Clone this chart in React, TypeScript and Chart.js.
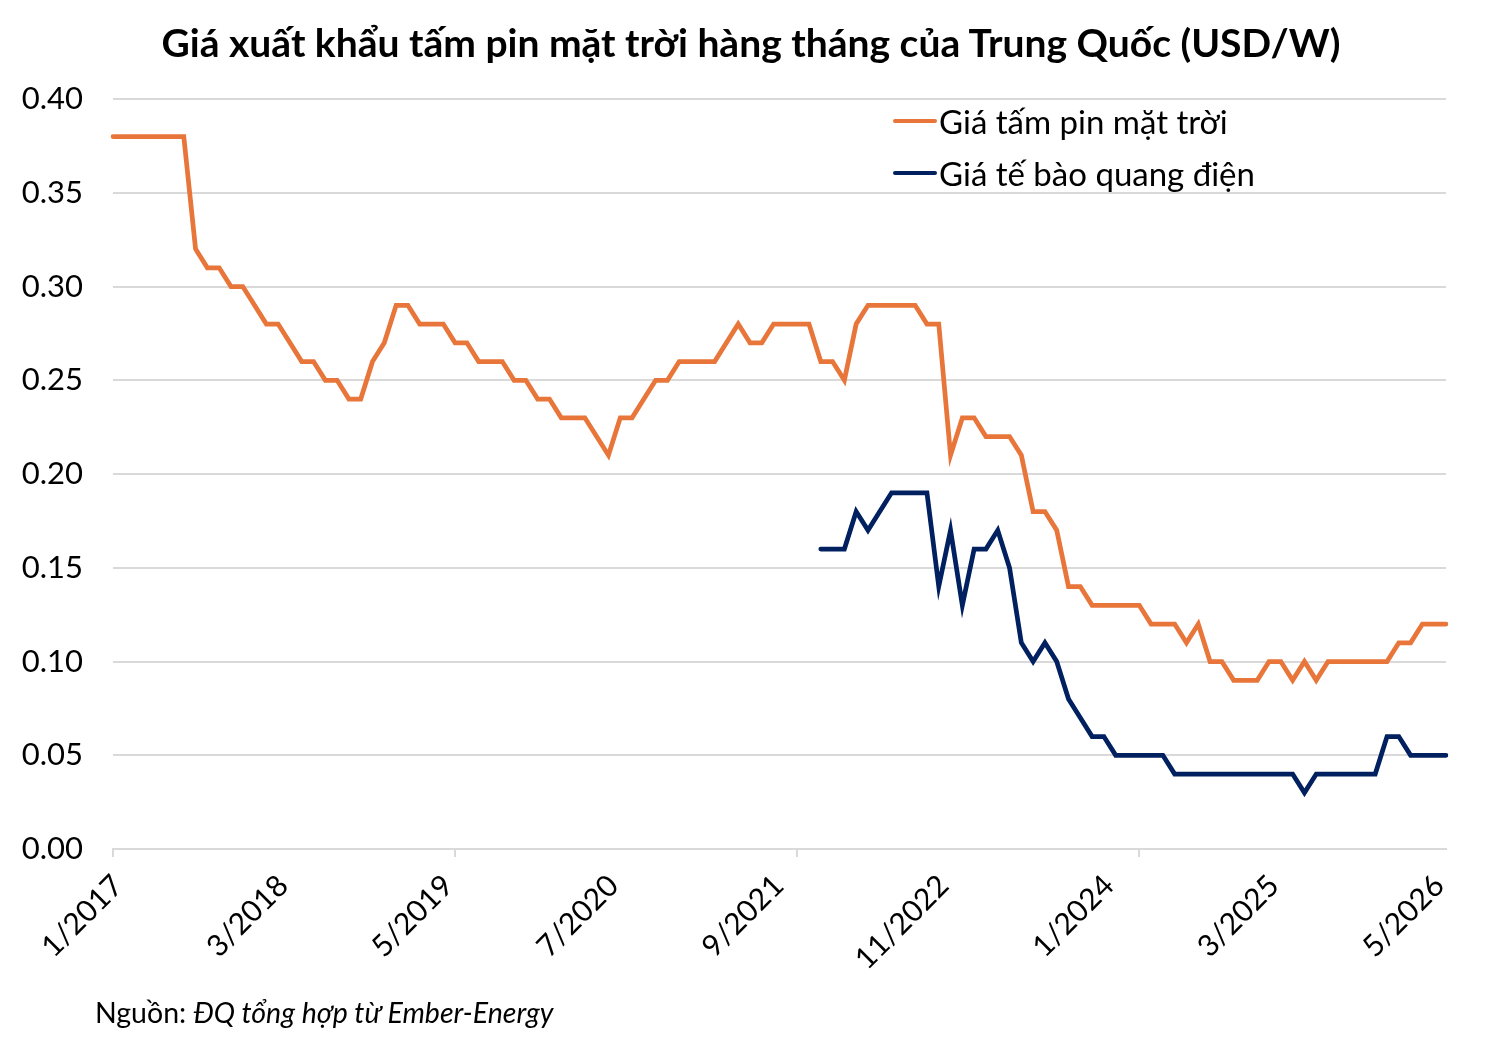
import React, { useEffect, useRef } from 'react';
import { Chart, registerables } from 'chart.js';

Chart.register(...registerables);

// monthly categories, 1/2017 .. 6/2026
const startYear = 2017;
const monthCount = 114;
const months: string[] = [];
for (let i = 0; i < monthCount; i++) {
  months.push(`${(i % 12) + 1}/${startYear + Math.floor(i / 12)}`);
}

// USD/W, one row per year
const panelPrice = [
  0.38, 0.38, 0.38, 0.38, 0.38, 0.38, 0.38, 0.32, 0.31, 0.31, 0.30, 0.30,
  0.29, 0.28, 0.28, 0.27, 0.26, 0.26, 0.25, 0.25, 0.24, 0.24, 0.26, 0.27,
  0.29, 0.29, 0.28, 0.28, 0.28, 0.27, 0.27, 0.26, 0.26, 0.26, 0.25, 0.25,
  0.24, 0.24, 0.23, 0.23, 0.23, 0.22, 0.21, 0.23, 0.23, 0.24, 0.25, 0.25,
  0.26, 0.26, 0.26, 0.26, 0.27, 0.28, 0.27, 0.27, 0.28, 0.28, 0.28, 0.28,
  0.26, 0.26, 0.25, 0.28, 0.29, 0.29, 0.29, 0.29, 0.29, 0.28, 0.28, 0.21,
  0.23, 0.23, 0.22, 0.22, 0.22, 0.21, 0.18, 0.18, 0.17, 0.14, 0.14, 0.13,
  0.13, 0.13, 0.13, 0.13, 0.12, 0.12, 0.12, 0.11, 0.12, 0.10, 0.10, 0.09,
  0.09, 0.09, 0.10, 0.10, 0.09, 0.10, 0.09, 0.10, 0.10, 0.10, 0.10, 0.10,
  0.10, 0.11, 0.11, 0.12, 0.12, 0.12,
];

const cellPrice: (number | null)[] = [
  null, null, null, null, null, null, null, null, null, null, null, null,
  null, null, null, null, null, null, null, null, null, null, null, null,
  null, null, null, null, null, null, null, null, null, null, null, null,
  null, null, null, null, null, null, null, null, null, null, null, null,
  null, null, null, null, null, null, null, null, null, null, null, null,
  0.16, 0.16, 0.16, 0.18, 0.17, 0.18, 0.19, 0.19, 0.19, 0.19, 0.14, 0.17,
  0.13, 0.16, 0.16, 0.17, 0.15, 0.11, 0.10, 0.11, 0.10, 0.08, 0.07, 0.06,
  0.06, 0.05, 0.05, 0.05, 0.05, 0.05, 0.04, 0.04, 0.04, 0.04, 0.04, 0.04,
  0.04, 0.04, 0.04, 0.04, 0.04, 0.03, 0.04, 0.04, 0.04, 0.04, 0.04, 0.04,
  0.06, 0.06, 0.05, 0.05, 0.05, 0.05,
];

const series = [
  { label: 'Giá tấm pin mặt trời', data: panelPrice, color: '#E8763A' },
  { label: 'Giá tế bào quang điện', data: cellPrice, color: '#002060' },
];

const yTicks = [0, 0.05, 0.1, 0.15, 0.2, 0.25, 0.3, 0.35, 0.4];

const FONT = 'Lato, "Noto Sans", sans-serif';
const GRID = '#D9D9D9';

function PriceChart() {
  const canvasRef = useRef<HTMLCanvasElement | null>(null);

  useEffect(() => {
    if (!canvasRef.current) return;
    const chart = new Chart(canvasRef.current, {
      type: 'line',
      data: {
        labels: months,
        datasets: series.map(s => ({
          label: s.label,
          data: s.data,
          borderColor: s.color,
          backgroundColor: s.color,
          borderWidth: 4.75,
          pointRadius: 0,
          tension: 0,
          borderCapStyle: 'round',
          spanGaps: false,
        })),
      },
      options: {
        responsive: false,
        animation: false,
        layout: { padding: { left: 0, top: 99, right: 54, bottom: 51 } },
        plugins: { legend: { display: false }, tooltip: { enabled: false } },
        scales: {
          x: {
            type: 'category',
            afterFit: (scale: any) => { scale.height = 150; },
            border: { display: true, color: GRID, width: 2 },
            grid: {
              drawOnChartArea: false,
              drawTicks: true,
              tickLength: 8,
              lineWidth: 2,
              color: (ctx: any) => (ctx.index % 29 === 0 ? GRID : 'rgba(0,0,0,0)'),
            },
            ticks: {
              autoSkip: false,
              maxRotation: 45,
              minRotation: 45,
              padding: 11,
              labelOffset: 5,
              color: '#000',
              font: { family: FONT, size: 30 },
              callback: (_v: any, i: number) => (i % 14 === 0 ? months[i] : ''),
            },
          },
          y: {
            min: 0,
            max: 0.4,
            afterFit: (scale: any) => { scale.width = 113; },
            afterBuildTicks: (scale: any) => { scale.ticks = yTicks.map(v => ({ value: v })); },
            border: { display: false },
            grid: { color: GRID, lineWidth: 2, drawTicks: false },
            ticks: {
              padding: 30,
              color: '#000',
              font: { family: FONT, size: 31 },
              callback: (v: any) => Number(v).toFixed(2),
            },
          },
        },
      },
    });
    return () => { chart.destroy(); };
  }, []);

  return <canvas ref={canvasRef} width={1500} height={1050} style={{ position: 'absolute', left: 0, top: 0 }} />;
}

export default function App() {
  return (
    <div style={{ position: 'absolute', left: 0, top: 0, width: 1500, height: 1050, background: '#fff', fontFamily: FONT, color: '#000' }}>
      <PriceChart />
      <div style={{ position: 'absolute', left: 0, top: 17, width: 1502, textAlign: 'center', fontSize: 39, fontWeight: 700, lineHeight: '50px' }}>
        Giá xuất khẩu tấm pin mặt trời hàng tháng của Trung Quốc (USD/W)
      </div>
      <div style={{ position: 'absolute', left: 893, top: 95 }}>
        {series.map(s => (
          <div key={s.label} style={{ display: 'flex', alignItems: 'center', height: 52, fontSize: 33 }}>
            <div style={{ width: 44, height: 4.75, borderRadius: 3, background: s.color, marginRight: 2 }} />
            <span>{s.label}</span>
          </div>
        ))}
      </div>
      <div style={{ position: 'absolute', left: 95, top: 993, fontSize: 28.5, lineHeight: '38px' }}>
        Nguồn: <i>ĐQ tổng hợp từ Ember-Energy</i>
      </div>
    </div>
  );
}
